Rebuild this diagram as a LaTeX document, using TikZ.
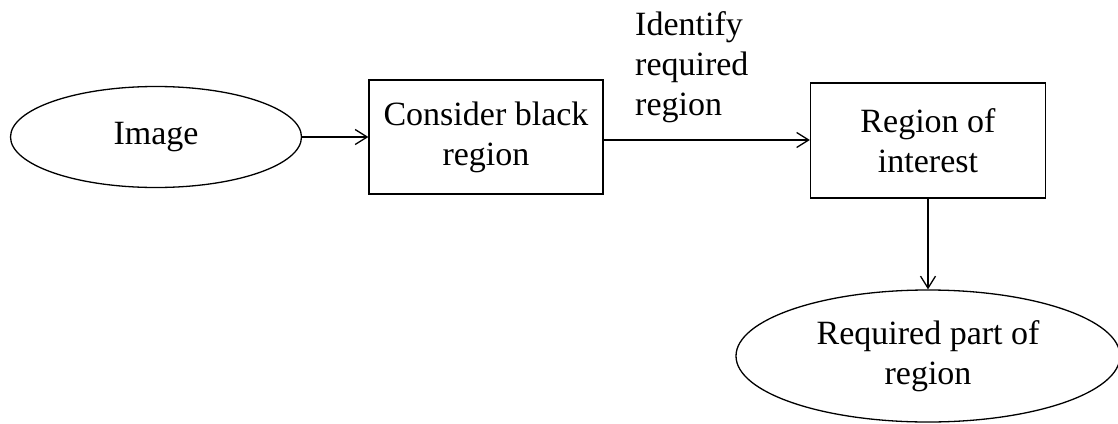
\documentclass[tikz,border=0pt]{standalone}
\usepackage{fontspec}
\setmainfont{Liberation Serif}
\usetikzlibrary{shapes.geometric,arrows.meta}
\begin{document}
\begin{tikzpicture}[x=1pt,y=-1pt,
  every node/.style={font=\fontsize{34}{40}\selectfont, align=center, inner sep=0pt},
  oval/.style={draw, ellipse, line width=1.3pt},
  stepbox/.style={draw, rectangle, line width=1.3pt},
  link/.style={draw, line width=1.3pt, -{Straight Barb[length=12pt,width=15pt,line width=1.3pt]}}]
\fill[white] (0,0) rectangle (1118,423);
\useasboundingbox (0,0) rectangle (1118,423);
\node[oval, minimum width=291pt, minimum height=101pt] (img) at (156,137) {Image};
\node[stepbox, minimum width=234pt, minimum height=114pt] (cbr) at (486,137) {Consider black\\region};
\node[stepbox, minimum width=235pt, minimum height=115pt] (roi) at (928,140.5) {Region of\\interest};
\node[oval, minimum width=384pt, minimum height=132pt] (rpr) at (928,356) {Required part of\\region};
\node[anchor=north west, align=left] (lbl) at (635,11) {Identify\\required\\region};
\draw[link] (img.east) -- (cbr.west);
\draw[link] (cbr.east |- 0,140) -- (roi.west |- 0,140);
\draw[link] (roi.south) -- (rpr.north);
\end{tikzpicture}
\end{document}
